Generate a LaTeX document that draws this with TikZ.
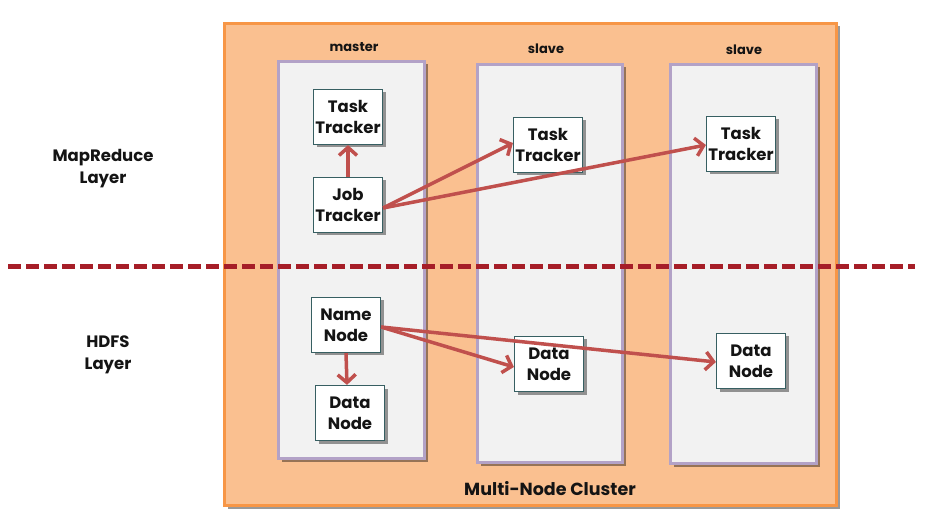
\documentclass[tikz,border=0pt]{standalone}
\usepackage{fontspec}
\setmainfont{Poppins}
\usetikzlibrary{arrows.meta,shadows}
\definecolor{outerfill}{HTML}{FAC090}
\definecolor{outerdraw}{HTML}{F79646}
\definecolor{colfill}{HTML}{F2F2F2}
\definecolor{coldraw}{HTML}{B3A2C7}
\definecolor{boxdraw}{RGB}{55,95,98}
\definecolor{arrowcol}{HTML}{C0504D}
\definecolor{dashcol}{RGB}{166,30,40}
\definecolor{txt}{RGB}{20,20,20}
\tikzset{
  mysh/.style={drop shadow={shadow xshift=3pt,shadow yshift=-3pt,fill=black,opacity=0.4}},
  outerbox/.style={draw=outerdraw,fill=outerfill,line width=3pt,mysh},
  colbox/.style={draw=coldraw,fill=colfill,line width=3pt,mysh},
  compbox/.style={draw=boxdraw,fill=white,line width=1.2pt,mysh,minimum width=69pt,minimum height=55pt,align=center,inner sep=0pt,font=\fontsize{16.5}{21}\selectfont\bfseries,text=txt},
  coltitle/.style={font=\fontsize{13}{15}\selectfont\bfseries,text=txt},
  layertitle/.style={font=\fontsize{16.5}{22}\selectfont\bfseries,text=txt,align=center},
  conn/.style={draw=arrowcol,line width=3.5pt,-{Straight Barb[length=8pt,width=18pt,line width=3.5pt]}},
  layerline/.style={draw=dashcol,line width=5pt,dash pattern=on 13pt off 5pt}
}
\begin{document}
\begin{tikzpicture}[x=1pt,y=-1pt]
\useasboundingbox (0,0) rectangle (940,529);
% outer cluster
\node[outerbox,minimum width=612pt,minimum height=482pt,anchor=north west,inner sep=0pt] (cluster) at (223,22) {};
% columns
\node[colbox,minimum width=146pt,minimum height=397pt,anchor=north west,inner sep=0pt] (colm) at (277,60) {};
\node[colbox,minimum width=145pt,minimum height=398pt,anchor=north west,inner sep=0pt] (cols1) at (476,63) {};
\node[colbox,minimum width=146pt,minimum height=399pt,anchor=north west,inner sep=0pt] (cols2) at (669,63) {};
% column titles
\node[coltitle] (tm) at (354,47) {master};
\node[coltitle] (ts1) at (546,49) {slave};
\node[coltitle] (ts2) at (744,50) {slave};
% layer titles
\node[layertitle] (lmr) at (103,169) {MapReduce\\Layer};
\node[layertitle] (lhdfs) at (108,355) {HDFS\\Layer};
% dashed separator
\coordinate (dl) at (8,267);
\coordinate (dr) at (915,267);
\draw[layerline] (dl) -- (dr);
% component boxes
\node[compbox] (ttm) at (348,117) {Task\\Tracker};
\node[compbox] (jt) at (348,205) {Job\\Tracker};
\node[compbox] (nn) at (346,325) {Name\\Node};
\node[compbox] (dnm) at (350,413) {Data\\Node};
\node[compbox] (tts1) at (548,145) {Task\\Tracker};
\node[compbox] (dns1) at (549,364) {Data\\Node};
\node[compbox] (tts2) at (741,144) {Task\\Tracker};
\node[compbox] (dns2) at (751,361) {Data\\Node};
% connectors
\draw[conn] (jt.north) -- (ttm.south);
\draw[conn] ([yshift=-3pt]jt.east) -- ([yshift=2pt]tts1.west);
\draw[conn] ([yshift=-3pt]jt.east) -- ([yshift=-1pt]tts2.west);
\draw[conn] (nn.south) -- ([xshift=-3pt]dnm.north);
\draw[conn] ([yshift=-2pt]nn.east) -- ([yshift=-3pt]dns1.west);
\draw[conn] ([yshift=-2pt]nn.east) -- ([yshift=-1pt]dns2.west);
% cluster label
\node[font=\fontsize{17.5}{20}\selectfont\bfseries,text=txt] (cl) at (550,489) {Multi-Node Cluster};
\end{tikzpicture}
\end{document}
